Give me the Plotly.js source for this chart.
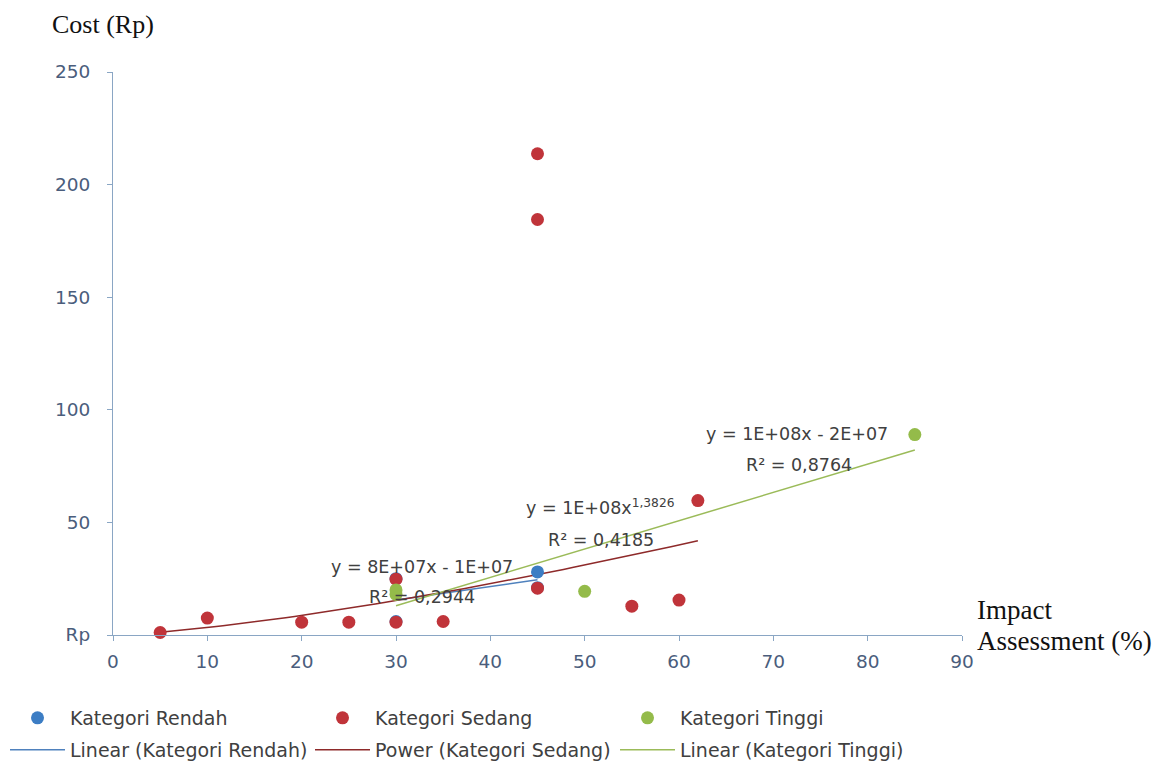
<!DOCTYPE html>
<html>
<head>
<meta charset="utf-8">
<script src="https://cdn.plot.ly/plotly-3.0.1.min.js"></script>
<style>
  html, body { margin: 0; padding: 0; background: #ffffff; }
  #chart { width: 1163px; height: 778px; }
</style>
</head>
<body>
<div id="chart"></div>
<script>
// ---------------- data ----------------
const rendahX = [30, 30, 45, 45];
const rendahY = [6, 25, 28, 21];

const sedangX = [5, 10, 20, 25, 30, 35, 30, 45, 45, 45, 55, 60, 62];
const sedangY = [1.1, 7.5, 5.7, 5.7, 5.7, 6, 24.8, 20.8, 213.7, 184.5, 12.8, 15.5, 59.7];

const tinggiX = [30, 30, 50, 85];
const tinggiY = [18, 20, 19.4, 89];

const seriesNames = ['Kategori Rendah', 'Kategori Sedang', 'Kategori Tinggi'];
const trendNames = ['Linear (Kategori Rendah)', 'Power (Kategori Sedang)', 'Linear (Kategori Tinggi)'];

const yTickVals = [0, 50, 100, 150, 200, 250];
const yTickText = ['Rp', '50', '100', '150', '200', '250'];
const xTickVals = [0, 10, 20, 30, 40, 50, 60, 70, 80, 90];

const eqTexts = ['y = 8E+07x - 1E+07', 'R² = 0,2944',
                 'y = 1E+08x<sup>1,3826</sup>', 'R² = 0,4185',
                 'y = 1E+08x - 2E+07', 'R² = 0,8764'];

// ---------------- least-squares trendlines ----------------
function linFit(xs, ys) {
  const n = xs.length;
  const mx = xs.reduce((a, b) => a + b, 0) / n;
  const my = ys.reduce((a, b) => a + b, 0) / n;
  let sxx = 0, sxy = 0;
  for (let i = 0; i < n; i++) { sxx += (xs[i] - mx) ** 2; sxy += (xs[i] - mx) * (ys[i] - my); }
  const b = sxy / sxx, a = my - b * mx;
  return x => a + b * x;
}
function powFit(xs, ys) {
  const lx = xs.map(Math.log), ly = ys.map(Math.log);
  const lf = linFit(lx, ly);
  return x => Math.exp(lf(Math.log(x)));
}
function sampleLine(xs, f, steps) {
  const lo = Math.min(...xs), hi = Math.max(...xs);
  const X = [], Y = [];
  for (let i = 0; i <= steps; i++) { const x = lo + (hi - lo) * i / steps; X.push(x); Y.push(f(x)); }
  return { X, Y };
}
const tR = sampleLine(rendahX, linFit(rendahX, rendahY), 1);
const tS = sampleLine(sedangX, powFit(sedangX, sedangY), 60);
const tT = sampleLine(tinggiX, linFit(tinggiX, tinggiY), 1);

const cBlue = '#3C7DC4', cRed = '#C0343A', cGreen = '#94BB4A';
const lBlue = '#4F81BD', lRed = '#8E2A2A', lGreen = '#9BBB59';
const fontSans = 'DejaVu Sans, Liberation Sans, Arial, sans-serif';
const fontSerif = 'Liberation Serif, Times New Roman, serif';

function mk(x, y, name, color, rank) {
  return { type: 'scatter', mode: 'markers', x, y, name, legend: 'legend', legendrank: rank, cliponaxis: false,
           marker: { color, size: 13, line: { width: 0 } }, hoverinfo: 'x+y' };
}
function ln(t, name, color, rank) {
  return { type: 'scatter', mode: 'lines', x: t.X, y: t.Y, name, legend: 'legend2', legendrank: rank, cliponaxis: false,
           line: { color, width: 1.5 }, hoverinfo: 'skip' };
}

const data = [
  ln(tR, trendNames[0], lBlue, 1),
  ln(tS, trendNames[1], lRed, 2),
  ln(tT, trendNames[2], lGreen, 3),
  mk(rendahX, rendahY, seriesNames[0], cBlue, 1),
  mk(sedangX, sedangY, seriesNames[1], cRed, 2),
  mk(tinggiX, tinggiY, seriesNames[2], cGreen, 3)
];

const eqFont = { family: fontSans, size: 17.5, color: '#404040' };
function eq(text, x, y) {
  return { text, x, y, xref: 'x', yref: 'y', showarrow: false, xanchor: 'center', yanchor: 'middle', font: eqFont };
}
const legendCommon = {
  orientation: 'h', xref: 'paper', yref: 'paper', x: -0.1272, xanchor: 'left', yanchor: 'middle',
  entrywidth: 235, entrywidthmode: 'pixels', itemwidth: 55, traceorder: 'normal',
  bgcolor: 'rgba(0,0,0,0)', borderwidth: 0,
  font: { family: fontSans, size: 19, color: '#404040' }
};

const layout = {
  width: 1163, height: 778,
  paper_bgcolor: '#ffffff', plot_bgcolor: '#ffffff',
  margin: { l: 113, r: 201, t: 72, b: 143, autoexpand: false },
  showlegend: true,
  legend: Object.assign({}, legendCommon, { y: -0.1474 }),
  legend2: Object.assign({}, legendCommon, { y: -0.2043 }),
  xaxis: {
    range: [0, 90], tickvals: xTickVals, showgrid: false, zeroline: false,
    showline: true, linecolor: '#8AA6C4', linewidth: 1.2,
    ticks: 'outside', ticklen: 5, tickcolor: '#8AA6C4', ticklabelstandoff: 5,
    tickfont: { family: fontSans, size: 18.5, color: '#4A5D7C' }
  },
  yaxis: {
    range: [0, 250], tickvals: yTickVals, ticktext: yTickText, showgrid: false, zeroline: false,
    showline: true, linecolor: '#8AA6C4', linewidth: 1.2,
    ticks: 'outside', ticklen: 5, tickcolor: '#8AA6C4', ticklabelstandoff: 13,
    tickfont: { family: fontSans, size: 18.5, color: '#4A5D7C' }
  },
  annotations: [
    eq(eqTexts[0], 32.8, 30.2), eq(eqTexts[1], 32.8, 16.9),
    eq(eqTexts[2], 51.7, 56.8), eq(eqTexts[3], 51.7, 42.2),
    eq(eqTexts[4], 72.5, 89.3), eq(eqTexts[5], 72.7, 75.5),
    { text: 'Cost (Rp)', xref: 'paper', yref: 'paper', x: -0.0742, y: 1.0835, xanchor: 'left', yanchor: 'middle',
      showarrow: false, font: { family: fontSerif, size: 26, color: '#111111' } },
    { text: 'Impact', xref: 'paper', yref: 'paper', x: 1.0153, y: 0.0444, xanchor: 'left', yanchor: 'middle',
      showarrow: false, font: { family: fontSerif, size: 27, color: '#111111' } },
    { text: 'Assessment (%)', xref: 'paper', yref: 'paper', x: 1.0153, y: -0.0107, xanchor: 'left', yanchor: 'middle',
      showarrow: false, font: { family: fontSerif, size: 27, color: '#111111' } }
  ]
};

Plotly.newPlot('chart', data, layout, { displayModeBar: false, responsive: false });
</script>
</body>
</html>
